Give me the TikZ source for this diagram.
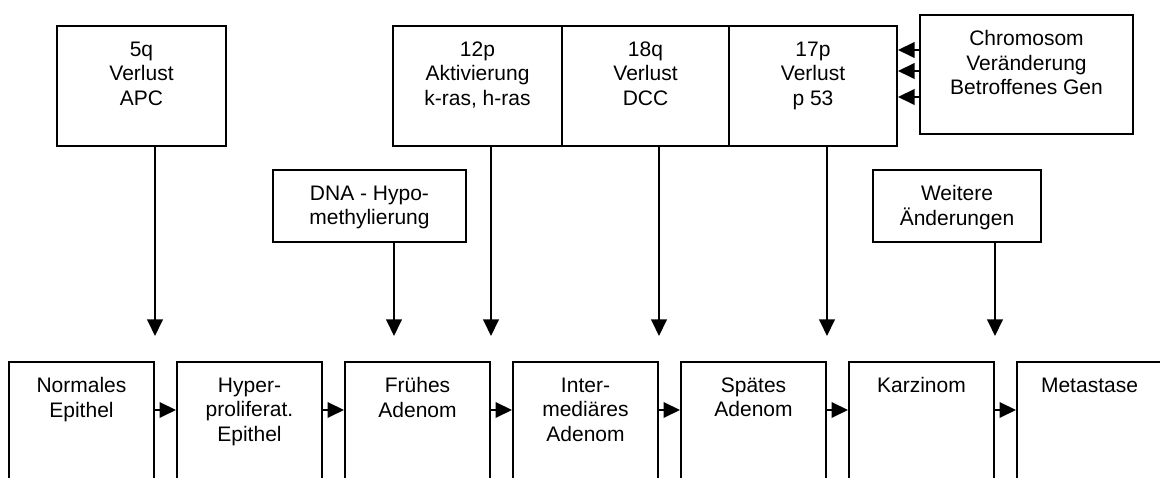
\documentclass[tikz,border=0pt]{standalone}
\usepackage{fontspec}
\setmainfont{Liberation Sans}
\usetikzlibrary{arrows.meta}

\begin{document}
\begin{tikzpicture}[x=1pt,y=1pt,line join=miter,
  kasten/.style={draw,line width=2pt,inner sep=0pt},
  txt/.style={anchor=north,yshift=-16.5pt,inner sep=0pt,align=center,
    font=\fontsize{21}{24.5}\selectfont},
  stufe/.style={kasten,minimum width=145,minimum height=140},
  pfeil/.style={line width=2pt,-{Triangle[length=16.5pt,width=15.5pt]}}]

% 画布（下排方框在下边、右边被截断）
\useasboundingbox (0,0) rectangle (1160,478);
\clip (0,0) rectangle (1160,478);

% 上排：染色体改变
\node[kasten,minimum width=169,minimum height=120,
  label={[txt]north:{5q\\Verlust\\APC}}] (q5) at (141.5,392) {};
\node[kasten,minimum width=169,minimum height=120,
  label={[txt]north:{12p\\Aktivierung\\k-ras, h-ras}}] (p12) at (477.5,392) {};
\node[kasten,minimum width=167,minimum height=120,
  label={[txt]north:{18q\\Verlust\\DCC}}] (q18) at (645.5,392) {};
\node[kasten,minimum width=168,minimum height=120,
  label={[txt]north:{17p\\Verlust\\p 53}}] (p17) at (813,392) {};
\node[kasten,minimum width=213,minimum height=119,
  label={[txt]north:{Chromosom\\Veränderung\\Betroffenes Gen}}] (chrom) at (1026.5,403.5) {};

% 中排
\node[kasten,minimum width=193,minimum height=72,
  label={[txt]north:{DNA - Hypo-\\methylierung}}] (dna) at (369.5,272) {};
\node[kasten,minimum width=168,minimum height=72,
  label={[txt]north:{Weitere\\Änderungen}}] (weit) at (957,272) {};

% 下排：各阶段
\foreach \txt [count=\i] in {{Normales\\Epithel},{Hyper-\\proliferat.\\Epithel},
    {Frühes\\Adenom},{Inter-\\mediäres\\Adenom},{Spätes\\Adenom},Karzinom,Metastase}
  \node[stufe,label={[txt]north:\txt}] (s\i) at ({81.5+168*(\i-1)},46) {};

% 阶段之间的箭头
\foreach \i [evaluate=\i as \j using int(\i+1)] in {1,...,6}
  \draw[pfeil] ([yshift=22pt]s\i.east) -- ([yshift=22pt]s\j.west);

% 向下的箭头（箭头尖停在下排上方）
\coordinate (spitze) at ([yshift=25pt]s1.north);
\foreach \von/\nach in {q5/s1,p12/s3,q18/s4,p17/s5,weit/s6}
  \draw[pfeil] (\von.south -| \nach.east) -- (spitze -| \nach.east);
\draw[pfeil] ([xshift=24.5pt]dna.south) -- ([xshift=24.5pt]dna.south |- spitze);

% 图例指向 17p
\foreach \dy in {24.5,3.5,-22.5}
  \draw[pfeil] ([yshift=\dy pt]chrom.west) -- ([yshift=\dy pt]chrom.west -| p17.east);

\end{tikzpicture}
\end{document}
